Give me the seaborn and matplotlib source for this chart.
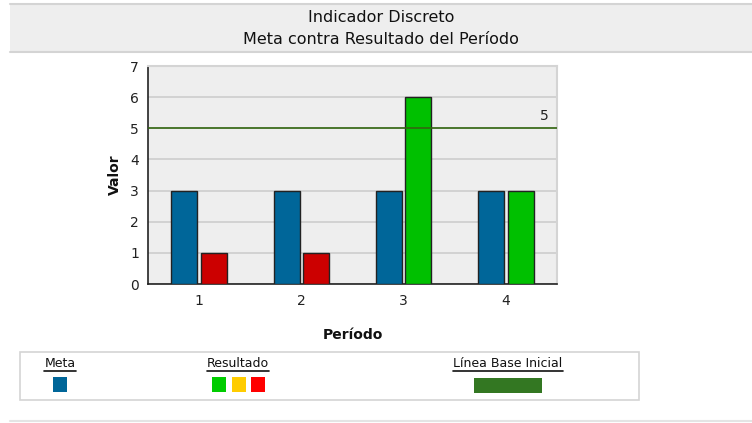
import numpy as np
import pandas as pd
import matplotlib.pyplot as plt
import matplotlib.patches as mpatches
import seaborn as sns

# ---------- Datos ----------
periodos = ["1", "2", "3", "4"]
meta = [3, 3, 3, 3]
resultado = [1, 1, 6, 3]
colores_resultado = ["#CC0000", "#CC0000", "#00C000", "#00C000"]
linea_base = 5

df = pd.DataFrame({
    "Período": periodos * 2,
    "Valor": meta + resultado,
    "Serie": ["Meta"] * 4 + ["Resultado"] * 4,
})

# ---------- Figura ----------
sns.set_theme(style="white")
plt.rcParams['font.family'] = ['DejaVu Sans']
W, H = 752, 423
fig = plt.figure(figsize=(W / 100, H / 100), dpi=100)

def fx(x):
    return x / W

def fy(y):
    return 1 - y / H

# Encabezado gris
fig.patches.append(mpatches.Rectangle((fx(10), fy(52)), fx(742), (52 - 4) / H,
                                      transform=fig.transFigure, facecolor="#EEEEEE",
                                      edgecolor="none"))
for yy in (4, 52):
    fig.add_artist(plt.Line2D([fx(10), 1], [fy(yy), fy(yy)], transform=fig.transFigure,
                              color="#D4D4D4", lw=1.5))
fig.text(0.5 * (fx(10) + 1), fy(18), "Indicador Discreto", ha="center", va="center",
         fontsize=11.5, color="#111111")
fig.text(0.5 * (fx(10) + 1), fy(40), "Meta contra Resultado del Período", ha="center",
         va="center", fontsize=11.5, color="#111111")

# Área del gráfico
ax = fig.add_axes([fx(148), fy(284), fx(557 - 148), (284 - 66) / H])
ax.set_facecolor("#EEEEEE")

sns.barplot(data=df, x="Período", y="Valor", hue="Serie",
            palette={"Meta": "#006699", "Resultado": "#CC0000"}, saturation=1,
            width=0.58, gap=0.12, edgecolor="#222222", linewidth=1,
            legend=False, ax=ax, zorder=3)
for barra, c in zip(ax.containers[1], colores_resultado):
    barra.set_facecolor(c)

ax.axhline(linea_base, color="#336611", lw=1.2, zorder=4)
ax.text(3.42, linea_base + 0.17, str(linea_base), ha="right", va="bottom",
        fontsize=10, color="#222222")

ax.set_ylim(0, 7)
ax.set_xlim(-0.5, 3.5)
ax.set_yticks(range(0, 8))
ax.yaxis.grid(True, color="#CFCFCF", lw=1.3, zorder=0)
ax.set_axisbelow(True)

for lado in ("left", "bottom"):
    ax.spines[lado].set_color("#222222")
    ax.spines[lado].set_linewidth(1.2)
for lado in ("top", "right"):
    ax.spines[lado].set_color("#D4D4D4")
    ax.spines[lado].set_linewidth(1.5)

ax.tick_params(axis="both", labelsize=10, colors="#333333", length=4, width=0.8,
               labelcolor="#222222")
ax.tick_params(axis="y", length=3, color="#999999")
ax.set_xlabel("Período", fontsize=10, fontweight="bold", labelpad=14, color="#111111")
ax.set_ylabel("Valor", fontsize=10, fontweight="bold", labelpad=6, color="#111111")

# Leyenda
fig.patches.append(mpatches.Rectangle((fx(20), fy(400)), fx(619), 48 / H,
                                      transform=fig.transFigure, facecolor="white",
                                      edgecolor="#D4D4D4", lw=1.2))
etiquetas = [("Meta", 60), ("Resultado", 238), ("Línea Base Inicial", 508)]
for txt, xc in etiquetas:
    t = fig.text(fx(xc), fy(363), txt, ha="center", va="center", fontsize=9,
                 color="#111111")
    fig.canvas.draw()
    bb = t.get_window_extent()
    fig.add_artist(plt.Line2D([bb.x0 / W, bb.x1 / W], [fy(371), fy(371)],
                              transform=fig.transFigure, color="#111111", lw=1.2))

cuadros = [(53, "#006699"), (212, "#00CC00"), (232, "#FFCC00"), (251, "#FF0000")]
for x0, c in cuadros:
    fig.patches.append(mpatches.Rectangle((fx(x0), fy(392)), fx(14), 15 / H,
                                          transform=fig.transFigure, facecolor=c,
                                          edgecolor="none"))
fig.patches.append(mpatches.Rectangle((fx(474), fy(393)), fx(68), 15 / H,
                                      transform=fig.transFigure, facecolor="#337722",
                                      edgecolor="none"))

fig.add_artist(plt.Line2D([fx(10), 1], [fy(421), fy(421)], transform=fig.transFigure,
                          color="#E4E4E4", lw=1.5))

fig.savefig("out.png", dpi=100)
